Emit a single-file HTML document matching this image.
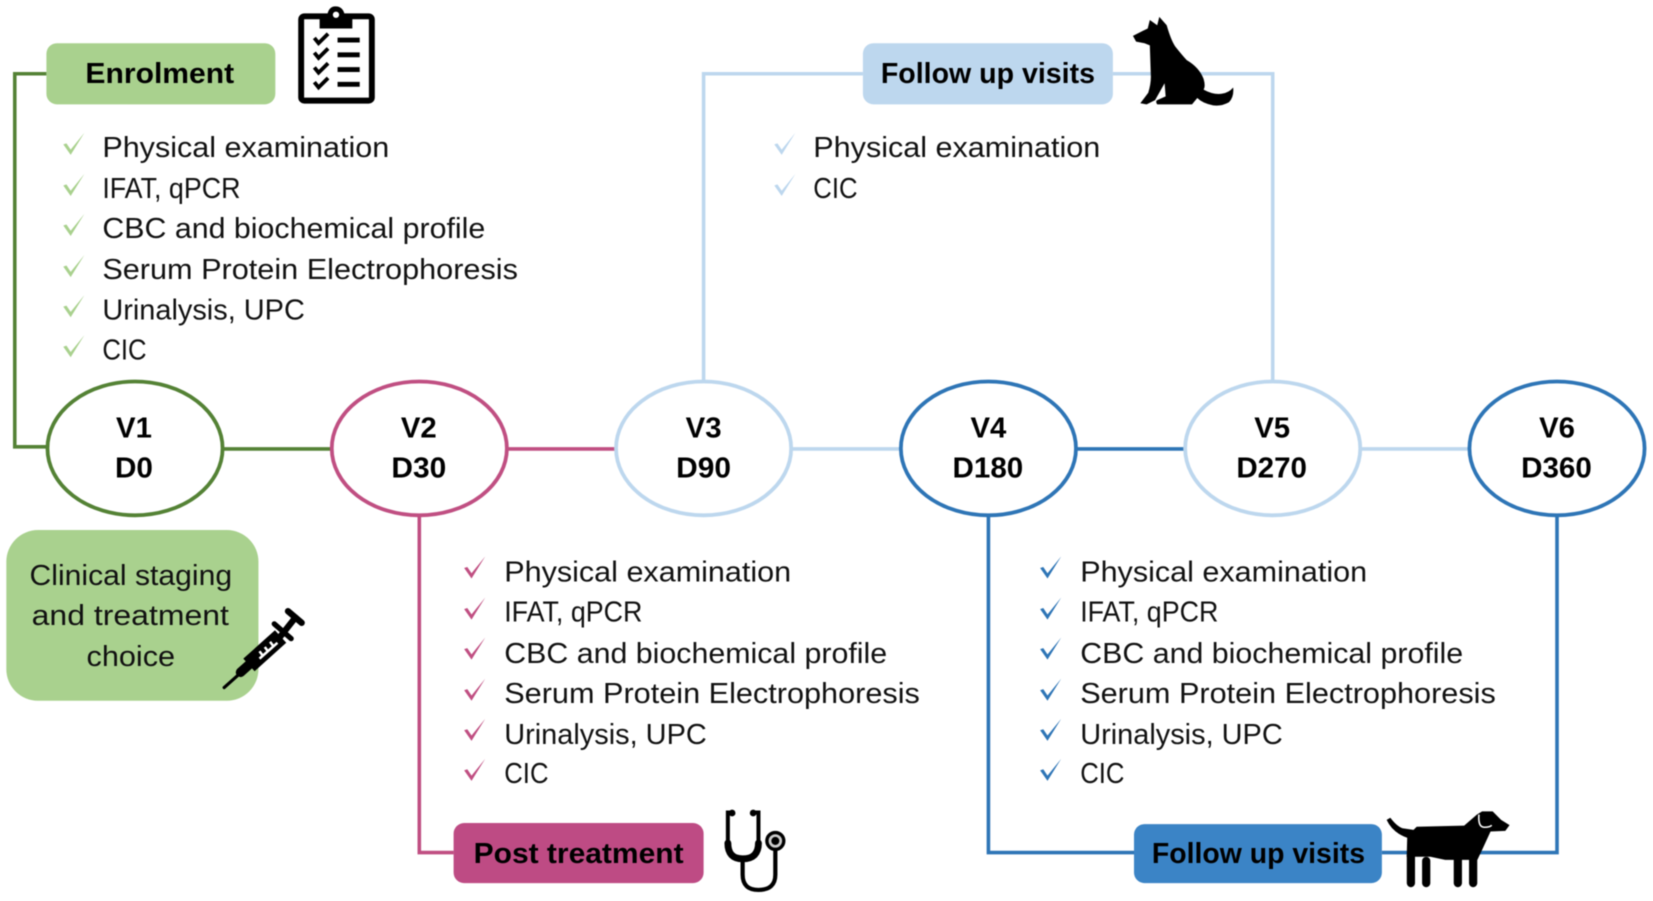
<!DOCTYPE html>
<html><head><meta charset="utf-8"><style>
html,body{margin:0;padding:0;background:#fff}
svg{display:block;width:1653px;height:901px;filter:blur(.5px)}
text{font-family:"Liberation Sans",sans-serif;fill:#111}
.t{font-size:27.5px}
.b{font-size:27.5px;font-weight:bold;fill:#000}
.l{fill:none;stroke-width:3.4}
</style></head><body>
<svg viewBox="0 0 1567 855" preserveAspectRatio="none" xmlns="http://www.w3.org/2000/svg">
<defs>
<path id="c" d="M60,137 L63,136 L67,142 L80,126 L67,147 Z"/>
</defs>
<polyline class="l" stroke="#548235" points="44,70 14,70 14,424 44,424"/>
<line class="l" stroke="#548235" x1="212" y1="426" x2="314" y2="426"/>
<line class="l" stroke="#C04F82" x1="482" y1="426" x2="583" y2="426"/>
<polyline class="l" stroke="#C04F82" points="397.5,490 397.5,809 430,809"/>
<line class="l" stroke="#BDD7EE" x1="751" y1="426" x2="853" y2="426"/>
<polyline class="l" stroke="#BDD7EE" points="667,361 667,70 818,70"/>
<polyline class="l" stroke="#BDD7EE" points="1055,70 1206.5,70 1206.5,361"/>
<line class="l" stroke="#BDD7EE" x1="1291" y1="426" x2="1392" y2="426"/>
<line class="l" stroke="#2E75B6" x1="1021" y1="426" x2="1122" y2="426"/>
<polyline class="l" stroke="#2E75B6" points="937,490 937,809 1075,809"/>
<polyline class="l" stroke="#2E75B6" points="1310,809 1476,809 1476,490"/>

<g fill="#fff" stroke-width="3.6">
<ellipse cx="128" cy="425.5" rx="83" ry="63.5" stroke="#548235"/>
<ellipse cx="397.5" cy="425.5" rx="83" ry="63.5" stroke="#C04F82"/>
<ellipse cx="667" cy="425.5" rx="83" ry="63.5" stroke="#BDD7EE"/>
<ellipse cx="937" cy="425.5" rx="83" ry="63.5" stroke="#2E75B6"/>
<ellipse cx="1206.5" cy="425.5" rx="83" ry="63.5" stroke="#BDD7EE"/>
<ellipse cx="1476" cy="425.5" rx="83" ry="63.5" stroke="#2E75B6"/>
</g>
<g class="nodes">
<text class="b" x="110" y="415" textLength="34" lengthAdjust="spacingAndGlyphs">V1</text>
<text class="b" x="109" y="453" textLength="36" lengthAdjust="spacingAndGlyphs">D0</text>
<text class="b" x="380" y="415" textLength="34" lengthAdjust="spacingAndGlyphs">V2</text>
<text class="b" x="371" y="453" textLength="52" lengthAdjust="spacingAndGlyphs">D30</text>
<text class="b" x="650" y="415" textLength="34" lengthAdjust="spacingAndGlyphs">V3</text>
<text class="b" x="641" y="453" textLength="52" lengthAdjust="spacingAndGlyphs">D90</text>
<text class="b" x="920" y="415" textLength="34" lengthAdjust="spacingAndGlyphs">V4</text>
<text class="b" x="903" y="453" textLength="67" lengthAdjust="spacingAndGlyphs">D180</text>
<text class="b" x="1189" y="415" textLength="34" lengthAdjust="spacingAndGlyphs">V5</text>
<text class="b" x="1172" y="453" textLength="67" lengthAdjust="spacingAndGlyphs">D270</text>
<text class="b" x="1459" y="415" textLength="34" lengthAdjust="spacingAndGlyphs">V6</text>
<text class="b" x="1442" y="453" textLength="67" lengthAdjust="spacingAndGlyphs">D360</text>
</g>

<rect x="44" y="41" width="217" height="58" rx="10" fill="#A9D18E"/>
<text class="b" x="81" y="79" textLength="141" lengthAdjust="spacingAndGlyphs">Enrolment</text>
<rect x="818" y="41" width="237" height="58" rx="10" fill="#BDD7EE"/>
<text class="b" x="835" y="79" textLength="203" lengthAdjust="spacingAndGlyphs">Follow up visits</text>
<rect x="430" y="781" width="237" height="57" rx="10" fill="#BE4B84"/>
<text class="b" x="449" y="819" textLength="199" lengthAdjust="spacingAndGlyphs">Post treatment</text>
<rect x="1075" y="782" width="235" height="56" rx="10" fill="#3B84C6"/>
<text class="b" x="1092" y="819" textLength="202" lengthAdjust="spacingAndGlyphs">Follow up visits</text>
<rect x="6" y="503" width="239" height="162" rx="30" fill="#A9D18E"/>
<text class="t" x="28" y="555" textLength="192" lengthAdjust="spacingAndGlyphs">Clinical staging</text>
<text class="t" x="30" y="593" textLength="187" lengthAdjust="spacingAndGlyphs">and treatment</text>
<text class="t" x="82" y="632" textLength="84" lengthAdjust="spacingAndGlyphs">choice</text>

<!-- Enrolment list -->
<g fill="#A9D18E">
<use href="#c"/><use href="#c" y="39"/><use href="#c" y="77"/><use href="#c" y="116"/><use href="#c" y="154"/><use href="#c" y="192"/>
</g>
<text class="t" x="97" y="149" textLength="272" lengthAdjust="spacingAndGlyphs">Physical examination</text>
<text class="t" x="97" y="188" textLength="131" lengthAdjust="spacingAndGlyphs">IFAT, qPCR</text>
<text class="t" x="97" y="226" textLength="363" lengthAdjust="spacingAndGlyphs">CBC and biochemical profile</text>
<text class="t" x="97" y="265" textLength="394" lengthAdjust="spacingAndGlyphs">Serum Protein Electrophoresis</text>
<text class="t" x="97" y="303" textLength="192" lengthAdjust="spacingAndGlyphs">Urinalysis, UPC</text>
<text class="t" x="97" y="341" textLength="42" lengthAdjust="spacingAndGlyphs">CIC</text>

<!-- Follow up 1 list -->
<g fill="#BDD7EE">
<use href="#c" x="674"/><use href="#c" x="674" y="39"/>
</g>
<text class="t" x="771" y="149" textLength="272" lengthAdjust="spacingAndGlyphs">Physical examination</text>
<text class="t" x="771" y="188" textLength="42" lengthAdjust="spacingAndGlyphs">CIC</text>

<!-- Post treatment list -->
<g fill="#C04F82">
<use href="#c" x="380" y="402"/><use href="#c" x="380" y="441"/><use href="#c" x="380" y="479"/><use href="#c" x="380" y="518"/><use href="#c" x="380" y="556"/><use href="#c" x="380" y="594"/>
</g>
<text class="t" x="478" y="552" textLength="272" lengthAdjust="spacingAndGlyphs">Physical examination</text>
<text class="t" x="478" y="590" textLength="131" lengthAdjust="spacingAndGlyphs">IFAT, qPCR</text>
<text class="t" x="478" y="629" textLength="363" lengthAdjust="spacingAndGlyphs">CBC and biochemical profile</text>
<text class="t" x="478" y="667" textLength="394" lengthAdjust="spacingAndGlyphs">Serum Protein Electrophoresis</text>
<text class="t" x="478" y="706" textLength="192" lengthAdjust="spacingAndGlyphs">Urinalysis, UPC</text>
<text class="t" x="478" y="743" textLength="42" lengthAdjust="spacingAndGlyphs">CIC</text>

<!-- Follow up 2 list -->
<g fill="#2E75B6">
<use href="#c" x="926" y="402"/><use href="#c" x="926" y="441"/><use href="#c" x="926" y="479"/><use href="#c" x="926" y="518"/><use href="#c" x="926" y="556"/><use href="#c" x="926" y="594"/>
</g>
<text class="t" x="1024" y="552" textLength="272" lengthAdjust="spacingAndGlyphs">Physical examination</text>
<text class="t" x="1024" y="590" textLength="131" lengthAdjust="spacingAndGlyphs">IFAT, qPCR</text>
<text class="t" x="1024" y="629" textLength="363" lengthAdjust="spacingAndGlyphs">CBC and biochemical profile</text>
<text class="t" x="1024" y="667" textLength="394" lengthAdjust="spacingAndGlyphs">Serum Protein Electrophoresis</text>
<text class="t" x="1024" y="706" textLength="192" lengthAdjust="spacingAndGlyphs">Urinalysis, UPC</text>
<text class="t" x="1024" y="743" textLength="42" lengthAdjust="spacingAndGlyphs">CIC</text>

<!-- Clipboard -->
<rect x="285.5" y="15.5" width="67" height="80" rx="3" fill="#fff" stroke="#000" stroke-width="5.6"/>
<path d="M303,27 V16 H310 Q311,6 318,6 Q326,6 327,16 H334 V27 Z" fill="#000"/>
<circle cx="318.5" cy="14" r="3" fill="#fff"/>
<g fill="none" stroke="#000" stroke-width="3.6">
<path d="M298,36 L302,41 L311,32"/><path d="M298,50 L302,55 L311,46"/><path d="M298,64 L302,69 L311,60"/><path d="M298,78 L302,83 L311,74"/>
</g>
<g stroke="#000" stroke-width="4.6">
<line x1="320" y1="38" x2="341" y2="38"/><line x1="320" y1="52" x2="341" y2="52"/><line x1="320" y1="66" x2="341" y2="66"/><line x1="320" y1="80" x2="341" y2="80"/>
</g>

<!-- Sitting dog -->
<path fill="#000" d="M1074,34 L1088,27 L1090,19 L1097,24 L1099,16 L1106,24 Q1110,38 1114,44 Q1122,54 1125,57 Q1137,64 1141,75 Q1143,82 1141,85 Q1150,90 1158,89 Q1165,88 1169,83 Q1170,92 1165,97 Q1158,101 1150,100 Q1140,98 1135,93 L1130,99 L1097,99 Q1095,96 1097,95 L1105,91.5 L1104,79 L1095,95 L1087,99 L1081,98 L1088.5,88 Q1091,80 1091,73 L1090,43 L1085,41 L1077,39.5 Z"/>

<!-- Standing dog -->
<path fill="#000" d="M1314.5,778 L1318,776 Q1324,784 1329.5,786 L1340,787.5 L1343,784.5 L1388,783.5 L1400,773 L1405,770 L1415,770 L1423,778 L1431,783 L1427,788.5 L1413,789 L1405,806.5 L1400.5,816 L1378,816 L1370,816 L1356,813 L1333.5,813 L1334,795 Q1320,790 1314.5,778 Z"/>
<g stroke="#000" stroke-width="7.8" stroke-linecap="round">
<line x1="1337.5" y1="812" x2="1337.5" y2="838"/><line x1="1352" y1="817" x2="1352" y2="838"/><line x1="1382" y1="812" x2="1382" y2="838"/><line x1="1396.5" y1="812" x2="1396.5" y2="838"/>
</g>
<path d="M1402,773 Q1401,785 1407,785 Q1413,785 1414,783" fill="none" stroke="#fff" stroke-width="1.5"/>

<!-- Syringe -->
<g stroke="#000" fill="none" stroke-linecap="round">
<line x1="212.5" y1="652.5" x2="232" y2="635" stroke-width="3"/>
<line x1="228" y1="638" x2="238" y2="629" stroke-width="9"/>
<line x1="236" y1="631" x2="266" y2="604" stroke-width="16" stroke-linecap="butt"/>
<line x1="265" y1="605" x2="280" y2="586" stroke-width="6"/>
<line x1="273" y1="580" x2="286" y2="591" stroke-width="6"/>
<line x1="260" y1="592" x2="276" y2="606" stroke-width="5"/>
</g>
<path d="M246,625 L263,610 M249,622 L246,618 M254,618 L251,614 M259,613 L256,609" stroke="#fff" stroke-width="2.4" fill="none"/>

<!-- Stethoscope -->
<g fill="none" stroke="#000" stroke-linecap="round">
<path d="M694,771 H690 V801 Q690,815 704,815 Q719,815 719,801 V771 H714" stroke-width="3.8"/>
<path d="M690,800 Q690,815 704,815 Q719,815 719,800" stroke-width="6.5"/>
<path d="M704,816 V830 Q704,844.5 719,844.5 Q735,844.5 735,830 V807" stroke-width="4"/>
<circle cx="735" cy="798" r="8" stroke-width="3.2" fill="#ccc"/>
</g>
<circle cx="735" cy="798" r="3.8" fill="#000"/>
<circle cx="694" cy="771.5" r="3.2" fill="#000"/><circle cx="714" cy="771.5" r="3.2" fill="#000"/>
</svg>
</body></html>
